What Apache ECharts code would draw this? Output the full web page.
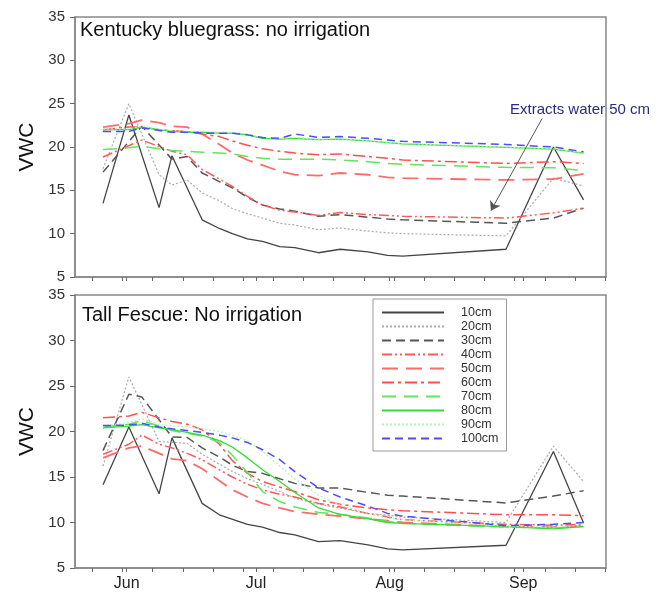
<!DOCTYPE html>
<html>
<head>
<meta charset="utf-8">
<script src="https://cdn.jsdelivr.net/npm/echarts@6.0.0/dist/echarts.min.js"></script>
<style>
  html, body { margin: 0; background: #fff; }
  #chart { width: 663px; height: 595px; }
</style>
</head>
<body>
<div id="chart"></div>
<script>
// sample days, counted from Jun 1
const days = [-5.5, 0.5, 3.5, 7.5, 10.5, 14, 17.5, 21.5, 24.5, 28, 31.5, 35.5, 39, 44.5, 49.5, 56, 60.5, 64, 88, 99, 106];
const monthDays = [0, 30, 61, 92];
const monthLabels = ["Jun", "Jul", "Aug", "Sep"];
const weekDays = [-8, -1, 6, 13, 20, 27, 34, 41, 48, 55, 62, 69, 76, 83, 90, 97, 104, 111];
const depths = ["10cm", "20cm", "30cm", "40cm", "50cm", "60cm", "70cm", "80cm", "90cm", "100cm"];

// Kentucky bluegrass (top panel)
const kbg10 = [13.5, 23.7, null, 13.0, 19.0, null, 11.6, 10.6, 10.0, 9.4, 9.1, 8.5, 8.4, 7.8, 8.2, 7.9, 7.5, 7.4, 8.2, 20.0, 13.9];
const kbg20 = [17.5, 25.0, null, 16.8, 15.6, 16.2, 14.7, 13.8, 12.9, 12.3, 11.8, 11.2, 11.0, 10.45, 10.65, 10.3, 10.1, 10.0, 9.75, 16.4, 15.5];
const kbg30 = [17.1, null, 22.4, null, 18.6, 18.9, 17.0, 16.0, 15.3, 14.2, 13.3, 12.85, 12.6, 12.0, 12.2, 11.9, 11.7, 11.6, 11.2, 11.8, 12.95];
const kbg40 = [18.85, null, 20.8, null, 19.5, 19.1, 17.4, 16.3, 15.45, 14.3, 13.3, 12.7, 12.5, 12.1, 12.45, 12.2, 12.1, 12.0, 11.8, 12.4, 12.95];
const kbg50 = [22.3, 22.7, 23.1, 22.8, 22.4, 22.3, 21.5, 20.3, 19.3, 18.5, 17.9, 17.2, 16.8, 16.7, 17.0, 16.8, 16.5, 16.4, 16.2, 16.3, 16.9];
const kbg60 = [22.0, 22.3, 22.3, 22.0, 21.9, 21.8, 21.5, 21.2, 20.7, 20.2, 19.8, 19.5, 19.3, 19.1, 19.2, 18.9, 18.7, 18.5, 18.1, 18.3, 18.1];
const kbg70 = [19.7, 19.9, 20.1, 19.8, 19.6, 19.5, 19.4, 19.3, 19.2, 18.9, 18.7, 18.6, 18.6, 18.6, 18.5, 18.3, 18.1, 18.0, 17.65, 17.6, 17.3];
const kbg80 = [22.0, 22.0, 22.3, 22.0, 21.8, 21.7, 21.7, 21.6, 21.6, 21.4, 21.0, 20.9, 21.0, 20.85, 20.9, 20.7, 20.5, 20.35, 19.95, 19.75, 19.3];
const kbg90 = [22.1, 22.1, 22.4, 22.1, 21.9, 21.8, 21.8, 21.7, 21.7, 21.5, 21.1, 21.0, 21.1, 20.9, 20.95, 20.75, 20.55, 20.4, 20.0, 19.8, 19.35];
const kbg100 = [21.8, 21.8, 22.2, 21.9, 21.7, 21.7, 21.6, 21.6, 21.6, 21.4, 21.1, 21.0, 21.5, 21.1, 21.2, 21.0, 20.8, 20.65, 20.3, 20.0, 19.45];

// Tall fescue (bottom panel)
const tf10 = [14.15, 20.5, null, 13.15, 19.3, null, 12.1, 10.85, null, 9.8, 9.5, 8.9, 8.65, 7.9, 8.0, 7.55, 7.1, 7.0, 7.5, 17.8, 9.95];
const tf20 = [16.2, 26.0, null, 18.9, 18.8, 18.7, 17.5, 16.4, 15.6, 14.8, 14.2, 13.4, 12.7, 12.0, 11.6, 11.0, 10.8, 10.6, 10.0, 18.4, 14.5];
const tf30 = [17.9, 24.1, 23.8, null, 19.4, 19.35, 18.2, 17.2, 16.3, 15.6, 15.4, 14.8, 14.3, 13.8, 13.8, 13.3, 13.0, 12.9, 12.15, 12.9, 13.5];
const tf40 = [17.5, 18.6, 19.6, 18.6, 18.2, 17.6, 16.9, 15.8, 15.0, 14.2, 13.6, 13.1, 12.8, 12.1, 11.7, 11.0, 10.6, 10.3, 9.8, 9.7, 9.8];
const tf50 = [17.1, 18.2, 18.4, 17.6, 17.0, 16.8, 15.9, 14.6, 13.6, 12.8, 12.1, 11.6, 11.2, 10.9, 10.7, 10.4, 10.2, 10.0, 9.55, 9.5, 9.65];
const tf60 = [21.5, 21.7, 22.1, 21.5, 21.1, 20.8, 20.2, 18.6, 16.8, 15.4, 14.5, 13.9, 13.4, 12.5, 12.0, 11.6, 11.4, 11.3, 10.85, 10.85, 10.75];
const tf70 = [20.5, 20.8, 21.2, 20.6, 20.1, 19.8, 19.5, 18.8, 17.4, 15.5, 13.4, 12.3, 11.7, 11.1, 10.9, 10.5, 10.1, 9.9, 9.5, 9.4, 9.6];
const tf80 = [20.4, 20.6, 20.75, 20.4, 20.2, 19.9, 19.6, 19.0, 18.3, 17.1, 15.8, 14.5, 13.3, 11.6, 10.9, 10.4, 10.0, 9.9, 9.55, 9.3, 9.55];
const tf90 = [20.6, 21.0, 21.4, 20.8, 20.6, 20.5, 20.3, 20.0, 19.6, 19.0, 17.8, 16.2, 14.8, 13.0, 11.9, 11.0, 10.5, 10.3, 9.6, 9.5, 9.7];
const tf100 = [20.65, 20.7, 20.9, 20.5, 20.3, 20.1, 19.9, 19.6, 19.3, 18.8, 18.0, 16.9, 15.6, 13.8, 12.8, 11.8, 11.0, 10.7, 9.65, 9.8, 10.0];

const bluegrass = [kbg10, kbg20, kbg30, kbg40, kbg50, kbg60, kbg70, kbg80, kbg90, kbg100];
const fescue = [tf10, tf20, tf30, tf40, tf50, tf60, tf70, tf80, tf90, tf100];

const lineStyles = [
  { color: "#444444", type: "solid", width: 1.3 },
  { color: "#aaaaaa", type: [2, 2], width: 1.2 },
  { color: "#555555", type: [9, 5], width: 1.5 },
  { color: "#ff5a5a", type: [10, 3, 2, 3, 2, 3], width: 1.5 },
  { color: "#ff6b6b", type: [16, 8], width: 1.8 },
  { color: "#ff5050", type: [12, 4, 3, 4], width: 1.5 },
  { color: "#5ee65e", type: [14, 8], width: 1.5 },
  { color: "#33dd33", type: "solid", width: 1.3 },
  { color: "#b3f5b3", type: [2, 2], width: 1.2 },
  { color: "#4d4dff", type: [8, 5], width: 1.5 },
];

const font = "Arial, 'Liberation Sans', sans-serif";

function makeSeries(values, i, panel) {
  return {
    name: depths[i],
    type: "line",
    xAxisIndex: panel,
    yAxisIndex: panel,
    data: days.map((d, k) => [d, values[k]]).filter((p) => p[1] != null),
    showSymbol: false,
    symbol: "none",
    lineStyle: lineStyles[i],
    itemStyle: { color: lineStyles[i].color },
    emphasis: { disabled: true },
  };
}

function xAxis(panel, showLabels) {
  return {
    type: "value",
    gridIndex: panel,
    min: -12,
    max: 111.2,
    axisLine: { onZero: false, lineStyle: { color: "#888", width: 1.5 } },
    axisTick: {
      length: 4,
      customValues: weekDays.concat(monthDays),
      lineStyle: { color: "#666" },
    },
    axisLabel: {
      show: showLabels,
      customValues: monthDays,
      formatter: (v) => monthLabels[monthDays.indexOf(v)],
      fontSize: 16,
      fontFamily: font,
      color: "#222",
      margin: 8,
    },
    splitLine: { show: false },
  };
}

function yAxis(panel) {
  return {
    type: "value",
    gridIndex: panel,
    min: 5,
    max: 35,
    interval: 5,
    name: "VWC",
    nameLocation: "middle",
    nameGap: 36,
    nameTextStyle: { fontSize: 21, fontFamily: font, color: "#111" },
    axisLine: { show: true, onZero: false, lineStyle: { color: "#888", width: 1.5 } },
    axisTick: { show: true, length: 5, lineStyle: { color: "#666" } },
    axisLabel: { fontSize: 15, fontFamily: font, color: "#333", margin: 10 },
    splitLine: { show: false },
  };
}

const series = [];
bluegrass.forEach((v, i) => series.push(makeSeries(v, i, 0)));
fescue.forEach((v, i) => series.push(makeSeries(v, i, 1)));

// arrow pointing to the 40cm line in the top panel
series[3].markLine = {
  silent: true,
  symbol: ["none", "arrow"],
  symbolSize: 9,
  label: { show: false },
  lineStyle: { color: "#555", width: 1, type: "solid" },
  data: [[{ coord: [96.4, 23.3] }, { coord: [84.5, 12.65] }]],
};

const chart = echarts.init(document.getElementById("chart"));
chart.setOption({
  animation: false,
  backgroundColor: "#fff",
  title: [
    {
      text: "Kentucky bluegrass: no irrigation",
      left: 80,
      top: 20,
      padding: 0,
      textStyle: { fontSize: 20, fontWeight: "normal", fontFamily: font, color: "#111" },
    },
    {
      text: "Tall Fescue: No irrigation",
      left: 82,
      top: 305,
      padding: 0,
      textStyle: { fontSize: 20, fontWeight: "normal", fontFamily: font, color: "#111" },
    },
  ],
  grid: [
    { left: 75, right: 57, top: 17, height: 260, show: true, borderColor: "#888", borderWidth: 1.5 },
    { left: 75, right: 57, top: 295, height: 273, show: true, borderColor: "#888", borderWidth: 1.5 },
  ],
  xAxis: [xAxis(0, false), xAxis(1, true)],
  yAxis: [yAxis(0), yAxis(1)],
  legend: {
    data: depths,
    orient: "vertical",
    left: 373,
    top: 299,
    padding: [7, 8, 6, 8],
    itemWidth: 62,
    itemHeight: 14,
    itemGap: 1,
    borderColor: "#999",
    borderWidth: 1,
    backgroundColor: "#fff",
    selectedMode: false,
    itemStyle: { opacity: 0 },
    textStyle: { fontSize: 12.5, fontFamily: font, color: "#333", padding: [0, 0, 0, 12] },
  },
  graphic: [
    {
      type: "text",
      left: 510,
      top: 102,
      style: { text: "Extracts water 50 cm", fill: "#2a2a80", font: "15px " + font },
    },
  ],
  series: series,
});
</script>
</body>
</html>
